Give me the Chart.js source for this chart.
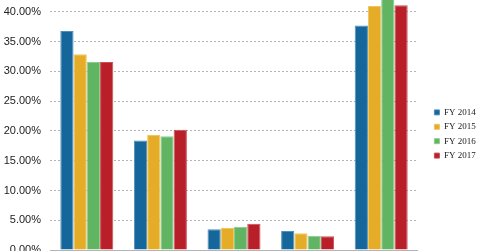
<!DOCTYPE html>
<html>
<head>
<meta charset="utf-8">
<script src="https://cdn.jsdelivr.net/npm/chart.js@4"></script>
<style>
html,body{margin:0;padding:0;background:#fff;overflow:hidden;}
#wrap{width:480px;height:268px;position:relative;}
</style>
</head>
<body>
<div id="wrap"><canvas id="c"></canvas></div>
<script>
const categories = ['Segment 1', 'Segment 2', 'Segment 3', 'Segment 4', 'Segment 5'];
const seriesNames = ['FY 2014', 'FY 2015', 'FY 2016', 'FY 2017'];
const fy2014 = [36.8, 18.4, 3.5, 3.2, 37.7];
const fy2015 = [32.9, 19.3, 3.7, 2.8, 41.0];
const fy2016 = [31.6, 19.1, 3.9, 2.4, 42.6];
const fy2017 = [31.6, 20.2, 4.4, 2.3, 41.1];
const yTicks = [0, 5, 10, 15, 20, 25, 30, 35, 40];

const colors = ['#15669a', '#e4ac27', '#60b462', '#b81f29'];
const borders = ['#4f8fbc', '#f0c460', '#8ccc8c', '#cc4e56'];
const values = [fy2014, fy2015, fy2016, fy2017];

new Chart(document.getElementById('c'), {
  type: 'bar',
  data: {
    labels: categories,
    datasets: seriesNames.map((n, i) => ({
      label: n,
      data: values[i],
      backgroundColor: colors[i],
      borderColor: borders[i],
      borderWidth: 1,
      categoryPercentage: 0.72,
      barPercentage: 1.0,
      yAxisID: 'y'
    }))
  },
  options: {
    responsive: true,
    maintainAspectRatio: false,
    animation: false,
    layout: { padding: { top: 0, left: 0, right: 0, bottom: 18 } },
    plugins: {
      tooltip: { enabled: false },
      legend: {
        position: 'right',
        maxWidth: 51,
        title: { display: true, text: ' ', padding: 0, font: { size: 18, lineHeight: 1 } },
        labels: {
          boxWidth: 5,
          boxHeight: 5,
          padding: 5.4,
          color: '#222',
          font: { family: 'Liberation Serif', size: 9 }
        }
      }
    },
    scales: {
      x: {
        display: false
      },
      y: {
        min: 0,
        max: 42,
        afterBuildTicks: s => { s.ticks = yTicks.map(v => ({ value: v })); },
        ticks: {
          includeBounds: false,
          padding: 9,
          color: '#222',
          font: { family: 'Liberation Sans', size: 11 },
          callback: v => v.toFixed(2) + '%'
        },
        grid: {
          display: true,
          drawTicks: false,
          color: '#b4b4b4',
          lineWidth: 1
        },
        border: {
          display: false,
          dash: ctx => (ctx.index === 0 ? [] : [2, 2])
        },
        afterFit: s => { s.width = 50; s.paddingTop = 0; s.paddingBottom = 0; }
      },
      gap: {
        type: 'linear',
        position: 'right',
        display: true,
        min: 0,
        max: 42,
        grid: { display: false, drawTicks: false },
        border: { display: false },
        ticks: { display: false },
        afterFit: s => { s.width = 11; s.paddingTop = 0; s.paddingBottom = 0; }
      }
    }
  }
});
</script>
</body>
</html>
